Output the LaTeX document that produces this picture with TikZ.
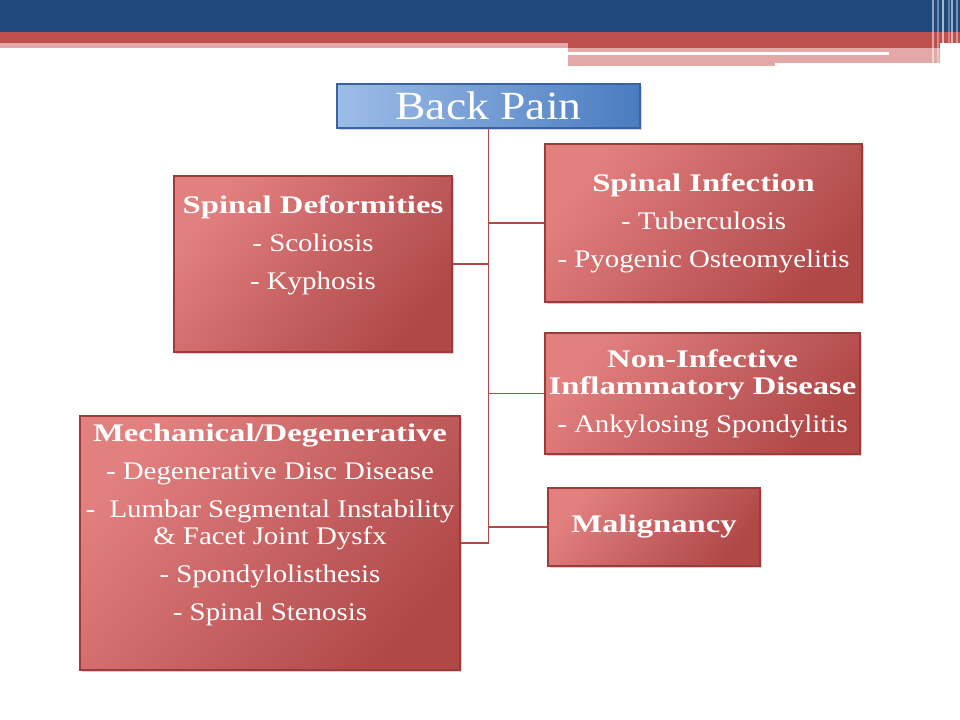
\documentclass[tikz,border=0pt]{standalone}
\usepackage{fontspec}
\setmainfont{Liberation Serif}[FakeStretch=1.14, BoldFeatures={FakeStretch=1.29}]
\usepackage{xcolor}
\usetikzlibrary{positioning,shadows}
\definecolor{slideblue}{HTML}{1F497D}
\definecolor{slidered}{HTML}{C0504D}
\definecolor{slidepink}{HTML}{E3A9A8}
\definecolor{rootlight}{HTML}{9DBDE8}
\definecolor{rootdark}{HTML}{4A7CC0}
\definecolor{rootedge}{HTML}{3A64A0}
\definecolor{boxlight}{HTML}{E27F7F}
\definecolor{boxdark}{HTML}{B04848}
\definecolor{boxedge}{HTML}{9E3A38}
\newcommand{\pxu}{0.75pt}
\tikzset{
	rootbox/.style={draw=rootedge, line width=0.8pt, shading=axis, left color=rootlight, right color=rootdark,
		inner sep=0pt, drop shadow={shadow xshift=1.5pt, shadow yshift=-1.5pt, opacity=0.35}},
	redbox/.style={draw=boxedge, line width=0.8pt, shading=axis, top color=boxlight, bottom color=boxdark,
		shading angle=50, inner sep=0pt, drop shadow={shadow xshift=1.5pt, shadow yshift=-1.5pt, opacity=0.35}},
	boxtext/.style={text=white, align=center, inner sep=0pt, font=\fontsize{19}{20.25}\selectfont},
	branch/.style={draw=slidered!92!black, line width=1.4pt},
}
\begin{document}
\begin{tikzpicture}[x=0.75pt, y=-0.75pt]
	\useasboundingbox (0,0) rectangle (960,720);
	%banner
	\fill[slideblue] (0,0) rectangle (960,32);
	\fill[slidered] (0,32) rectangle (960,43);
	\fill[slidepink] (0,43) rectangle (568,48);
	\fill[slidered] (568,43) rectangle (940,48);
	\fill[slidepink] (568,48) rectangle (940,63);
	\fill[white] (568,52) rectangle (889,55);
	\fill[slidepink] (568,55) rectangle (775,66);
	\foreach \s/\o in {932/0.5, 937/0.35, 942/0.6, 948/0.3, 951/0.55, 956/0.4}
		\fill[white, opacity=\o] (\s,0) rectangle (\s+1.5,66);
	%
	%root
	\node[rootbox, minimum width=303*\pxu, minimum height=44*\pxu] (root) at (488.5,106)
		{\color{white}\fontsize{30}{36}\selectfont Back Pain};
	%
	%left
	\node[redbox, minimum width=278*\pxu, minimum height=176*\pxu] (deform) at (313,264) {};
	\node[boxtext] (deformtxt) at (313,245)
		{\textbf{Spinal Deformities}\\[8.25pt] - Scoliosis\\[8.25pt] - Kyphosis};
	\node[redbox, minimum width=380*\pxu, minimum height=254*\pxu] (mech) at (270,543) {};
	\node[boxtext] (mechtxt) at (270,525)
		{\textbf{Mechanical/Degenerative}\\[8.25pt] - Degenerative Disc Disease\\[8.25pt]
		 -\ \ Lumbar Segmental Instability\\ \& Facet Joint Dysfx\\[8.25pt]
		 - Spondylolisthesis\\[8.25pt] - Spinal Stenosis};
	%
	%right
	\node[redbox, minimum width=317*\pxu, minimum height=158*\pxu] (infect) at (703.5,223) {};
	\node[boxtext] (infecttxt) at (infect.center)
		{\textbf{Spinal Infection}\\[8.25pt] - Tuberculosis\\[8.25pt] - Pyogenic Osteomyelitis};
	\node[redbox, minimum width=315*\pxu, minimum height=121*\pxu] (noninf) at (702.5,393.5) {};
	\node[boxtext] (noninftxt) at (noninf.center)
		{\textbf{Non-Infective}\\ \textbf{Inflammatory Disease}\\[8.25pt] - Ankylosing Spondylitis};
	\node[redbox, minimum width=212*\pxu, minimum height=78*\pxu] (malig) at (654,527) {};
	\node[boxtext] (maligtxt) at (malig.center) {\textbf{Malignancy}};
	%
	%connectors
	\draw[branch] (root.south) -- (root.south |- mech.east) -- (mech.east);
	\draw[branch] (deform.east) -- (deform.east -| root.south);
	\draw[branch] (infect.west) -- (infect.west -| root.south);
	\draw[branch] (noninf.west) -- (noninf.west -| root.south);
	\draw[branch] (malig.west) -- (malig.west -| root.south);
\end{tikzpicture}
\end{document}
